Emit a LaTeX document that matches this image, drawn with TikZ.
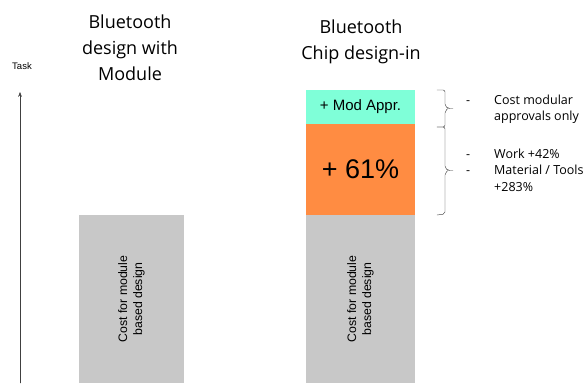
\documentclass[tikz,border=0pt]{standalone}
\usepackage{fontspec}
\setmainfont{Liberation Sans}
\newfontfamily\titlefont{Open Sans}
\usetikzlibrary{arrows.meta,positioning}

\definecolor{barGrey}{HTML}{C8C8C8}
\definecolor{barOrange}{HTML}{FF8C42}
\definecolor{barAqua}{HTML}{7FFFD8}

\tikzset{
  bar/.style={inner sep=0pt,outer sep=0pt,minimum width=109pt},
  heading/.style={align=center,font=\titlefont\fontsize{18}{26}\selectfont},
  barlabel/.style={rotate=90,align=center,font=\fontsize{12.3}{15}\selectfont},
  note/.style={inner sep=0pt,font=\titlefont\fontsize{12.5}{16.5}\selectfont},
  bracket/.style={thin,black!80,rounded corners=2pt}
}

\begin{document}
\begin{tikzpicture}[x=1pt,y=-1pt,>=Stealth,line join=round,line cap=round]
    \useasboundingbox (0,0) rectangle (588,383);
    % axis
    \coordinate (axisfoot) at (20,383);
    \coordinate (axistop) at (20,92);
    \draw[->,black!75] (axisfoot) -- (axistop);
    \node[font=\fontsize{9.5}{11}\selectfont] (task) at (22,66) {Task};

    % module design
    \node[bar,fill=barGrey,minimum width=105pt,minimum height=168pt,anchor=north west] (modbase) at (79,215) {};
    \node[barlabel] (modtext) at (modbase.center) {Cost for module\\based design};
    \node[heading] (modtitle) at (130,48) {Bluetooth\\design with\\Module};

    % chip design-in
    \node[bar,fill=barGrey,minimum height=168pt,anchor=north west] (chipbase) at (306,215) {};
    \node[barlabel] (chiptext) at (chipbase.center) {Cost for module\\based design};
    \node[bar,fill=barOrange,minimum height=91pt,above=0pt of chipbase] (extra) {};
    \node[font=\fontsize{27}{30}\selectfont] (extratext) at (extra.center) {+ 61\%};
    \node[bar,fill=barAqua,minimum height=34pt,above=0pt of extra] (appr) {};
    \node[font=\fontsize{15}{18}\selectfont] (apprtext) at (appr.center) {+ Mod Appr.};
    \node[heading] (chiptitle) at (361,42) {Bluetooth\\Chip design-in};

    % brackets and notes
    \coordinate (b1top) at (437,90);
    \coordinate (b1bot) at (437,127);
    \coordinate (b2bot) at (437,215);
    \draw[bracket] (b1top) -- ++(8,0) -- ++(0,16) -- ++(3,2.5) -- ++(5,0)
      ++(-5,0) -- ++(-3,2.5) -- ++(0,16) -- (b1bot);
    \draw[bracket] (b1bot) -- ++(8,0) -- ++(0,41) -- ++(3,2.5) -- ++(5,0)
      ++(-5,0) -- ++(-3,2.5) -- ++(0,41) -- (b2bot);
    \node[note,anchor=base west] (apprnote) at (466,104)
      {\begin{tabular}[t]{@{}p{28pt}@{}l@{}}-&Cost modular\\&approvals only\end{tabular}};
    \node[note,anchor=base west] (extranote) at (466,158)
      {\begin{tabular}[t]{@{}p{28pt}@{}l@{}}-&Work +42\%\\-&Material / Tools\\&+283\%\end{tabular}};
\end{tikzpicture}
\end{document}
